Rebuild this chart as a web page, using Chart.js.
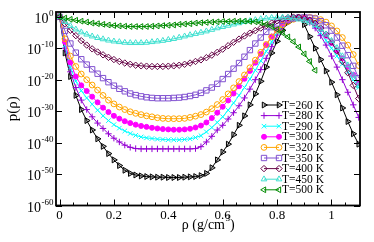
<!DOCTYPE html>
<html>
<head>
<meta charset="utf-8">
<script src="https://cdn.jsdelivr.net/npm/chart.js@4.4.1/dist/chart.umd.min.js"></script>
<style>
  html, body { margin: 0; padding: 0; background: #fff; }
  #wrap { width: 374px; height: 242px; }
</style>
</head>
<body>
<div id="wrap"><canvas id="pdist" width="374" height="242"></canvas></div>
<script>
// density grid (g/cm^3)
var rho = [0, 0.02, 0.04, 0.06, 0.08, 0.10, 0.12, 0.14, 0.16, 0.18,
           0.20, 0.22, 0.24, 0.26, 0.28, 0.30, 0.32, 0.34, 0.36, 0.38,
           0.40, 0.42, 0.44, 0.46, 0.48, 0.50, 0.52, 0.54, 0.56, 0.58,
           0.60, 0.62, 0.64, 0.66, 0.68, 0.70, 0.72, 0.74, 0.76, 0.78,
           0.80, 0.82, 0.84, 0.86, 0.88, 0.90, 0.92, 0.94, 0.96, 0.98,
           1.00, 1.02, 1.04, 1.06, 1.08, 1.10];

// log10 p(rho)
var logP260 = [0, -11.5, -19, -25, -29.5, -33, -36, -38.8, -41.2, -43.5,
               -45.5, -47.3, -48.8, -49.8, -50.3, -50.6, -50.8, -50.9, -51, -51,
               -51.1, -51.1, -51.1, -51, -50.9, -50.8, -50.5, -49.8, -48, -45.5,
               -43, -40.5, -37.5, -34.5, -31.5, -28, -24.5, -20.5, -16, -11.5,
               -7.8, -4.3, -1.8, -0.6, -0.2, -2.5, -6.3, -10, -13.6, -17.2,
               -20.8, -24.8, -29, -33.3, -37.2, -40.5];
var logP280 = [0, -10, -17.5, -22.5, -26.5, -29.5, -31.8, -33.8, -35.5, -37.2,
               -38.6, -39.8, -40.8, -41.5, -41.9, -42, -42, -42, -42, -42,
               -42, -42, -42, -42, -42, -41.9, -41.3, -39.8, -38, -36,
               -34.5, -32.5, -30.5, -28.3, -25.8, -23, -20, -16.8, -13.2, -9.5,
               -5.8, -3, -1.2, -0.4, -0.2, -0.6, -1.8, -3.6, -6, -9,
               -12.5, -16, -20, -24, -28, -32];
var logP290 = [0, -9, -16, -20.5, -23.5, -25.8, -27.8, -29.7, -31.5, -33,
               -34.3, -35.4, -36.3, -37.1, -37.7, -38.2, -38.5, -38.7, -38.9, -39,
               -39.1, -39.1, -39.1, -39, -38.8, -38.4, -37.8, -36.6, -35.2, -33.6,
               -31.8, -29.7, -27.4, -25, -22.5, -19.8, -17, -14, -11, -8,
               -5, -2.8, -1.3, -0.6, -0.3, -0.4, -1.2, -2.8, -5, -7.5,
               -10, -12.5, -15, -17.5, -20, -22.5];
var logP300 = [0, -8, -14.5, -19, -21.8, -23.6, -25.4, -27.2, -28.9, -30.3,
               -31.5, -32.4, -33.2, -33.8, -34.3, -34.7, -35, -35.3, -35.5, -35.7,
               -35.8, -35.9, -35.9, -35.8, -35.6, -35.2, -34.6, -33.6, -32.2, -30.5,
               -28.6, -26.6, -24.4, -22.1, -19.7, -17.2, -14.6, -11.8, -9, -6.3,
               -4, -2.2, -1.1, -0.5, -0.2, -0.3, -0.9, -2.1, -3.8, -6,
               -8.3, -10.7, -13.2, -15.8, -18.4, -21];
var logP320 = [0, -7, -12.5, -15.8, -18.2, -20, -21.7, -23.3, -25, -26.5,
               -27.7, -28.7, -29.5, -30.2, -30.7, -31.1, -31.5, -31.8, -32.1, -32.3,
               -32.4, -32.4, -32.4, -32.3, -32, -31.6, -31.1, -30.3, -29.2, -27.9,
               -26.3, -24.5, -22.6, -20.6, -18.5, -16.2, -13.8, -11.3, -8.8, -6.4,
               -4.3, -2.6, -1.5, -0.8, -0.4, -0.2, -0.2, -0.4, -0.9, -1.7,
               -2.9, -4.5, -6.6, -9, -12, -15.5];
var logP350 = [0, -4.5, -8.5, -11.4, -13.5, -15.2, -16.7, -18.1, -19.5, -20.8,
               -21.9, -22.9, -23.7, -24.4, -24.9, -25.3, -25.6, -25.8, -25.9, -25.9,
               -25.9, -25.8, -25.7, -25.5, -25.2, -24.8, -24.2, -23.4, -22.5, -21.3,
               -19.8, -18.2, -16.5, -14.7, -12.7, -10.6, -8.5, -6.6, -4.8, -3.3,
               -2.1, -1.3, -0.8, -0.5, -0.3, -0.2, -0.3, -0.6, -1.4, -2.7,
               -4.4, -6.6, -9.2, -12.2, -15.6, -19.5];
var logP400 = [0, -2.2, -4.3, -6, -7.6, -9, -10.2, -11.2, -12.1, -12.9,
               -13.6, -14.2, -14.7, -15.1, -15.4, -15.6, -15.7, -15.8, -15.8, -15.8,
               -15.7, -15.6, -15.4, -15.1, -14.7, -14.2, -13.7, -13, -12.2, -11.3,
               -10.3, -9.2, -8.1, -7.1, -6.1, -5.2, -4.4, -3.6, -2.8, -2,
               -1.3, -0.7, -0.3, -0.1, -0.2, -0.5, -1.1, -2.1, -3.6, -5.6,
               -8, -10.9, -14.2, -17.8, -21.8, -26];
var logP450 = [0, -1.6, -2.9, -4, -4.9, -5.6, -6.2, -6.7, -7.1, -7.5,
               -7.8, -8, -8.2, -8.3, -8.3, -8.3, -8.2, -8, -7.8, -7.6,
               -7.3, -7, -6.6, -6.2, -5.8, -5.4, -5, -4.6, -4.1, -3.6,
               -3.2, -2.8, -2.4, -2, -1.6, -1.3, -1, -0.7, -0.5, -0.3,
               -0.2, -0.2, -0.3, -0.5, -0.8, -1.2, -1.8, -2.6, -3.9, -5.6,
               -7.6, -9.9, -12.5, -15.4, -18.6, -22];
var logP500 = [0, -0.4, -0.8, -1.1, -1.4, -1.7, -2, -2.2, -2.4, -2.6,
               -2.8, -2.9, -3, -3.1, -3.1, -3.1, -3.1, -3, -2.9, -2.8,
               -2.7, -2.6, -2.4, -2.3, -2.2, -2, -1.9, -1.8, -1.7, -1.6,
               -1.5, -1.5, -1.4, -1.4, -1.4, -1.5, -1.6, -1.9, -2.4, -3.1,
               -4, -5.1, -6.4, -7.9, -9.6, -11.8, -14.2, -17];

var seriesNames = ['T=260 K', 'T=280 K', 'T=290 K', 'T=300 K', 'T=320 K',
                   'T=350 K', 'T=400 K', 'T=450 K', 'T=500 K'];
var seriesValues = [logP260, logP280, logP290, logP300, logP320,
                    logP350, logP400, logP450, logP500];

var xMajorTicks = [0, 0.2, 0.4, 0.6, 0.8, 1.0];
var xTickLabels = ['0', '0.2', '0.4', '0.6', '0.8', '1'];
var xMinorTicks = [0.05, 0.1, 0.15, 0.25, 0.3, 0.35, 0.45, 0.5, 0.55,
                   0.65, 0.7, 0.75, 0.85, 0.9, 0.95, 1.05];
var yMajorTicks = [0, -10, -20, -30, -40, -50, -60];
var yTickLabels = ['0', '-10', '-20', '-30', '-40', '-50', '-60'];

// xmgrace-like look per set
var styles = [
    { color: '#000000', shape: 'triangle', rot: 90,  r: 3.4, fill: 'rgba(0,0,0,0.25)' },
    { color: '#9400d3', shape: 'cross',    rot: 0,   r: 3.2, fill: 'rgba(0,0,0,0)' },
    { color: '#00ffff', shape: 'crossRot', rot: 0,   r: 3.2, fill: 'rgba(0,0,0,0)' },
    { color: '#ff00ff', shape: 'circle',   rot: 0,   r: 2.5, fill: '#ff00ff' },
    { color: '#ffa500', shape: 'circle',   rot: 0,   r: 2.9, fill: 'rgba(0,0,0,0)' },
    { color: '#8050d0', shape: 'rect',     rot: 0,   r: 3.8, fill: 'rgba(0,0,0,0)' },
    { color: '#670748', shape: 'rectRot',  rot: 0,   r: 3.2, fill: 'rgba(0,0,0,0)' },
    { color: '#40e0d0', shape: 'triangle', rot: 0,   r: 3.3, fill: 'rgba(0,0,0,0)' },
    { color: '#008b00', shape: 'triangle', rot: -90, r: 3.3, fill: 'rgba(0,0,0,0)' }
];

var datasets = seriesValues.map(function(vals, i) {
    var st = styles[i];
    return {
        label: seriesNames[i],
        data: vals.map(function(v, j) { return { x: rho[j], y: v }; }),
        borderColor: st.color,
        borderWidth: 1,
        pointStyle: st.shape,
        pointRotation: st.rot,
        pointRadius: st.r,
        pointBorderWidth: 1,
        pointBorderColor: st.color,
        pointBackgroundColor: st.fill,
        tension: 0,
        fill: false,
        order: seriesNames.length - i
    };
});

var serif = '"Liberation Serif", "DejaVu Serif", serif';

function drawPower(c, base, sup, xRight, baseline, bigSize, smallSize) {
    c.font = bigSize + 'px ' + serif;
    var wb = c.measureText(base).width;
    c.font = smallSize + 'px ' + serif;
    var ws = c.measureText(sup).width;
    var x0 = xRight - ws - wb;
    c.font = bigSize + 'px ' + serif;
    c.fillText(base, x0, baseline);
    c.font = smallSize + 'px ' + serif;
    c.fillText(sup, x0 + wb + 0.5, baseline - bigSize * 0.5);
}

var gracePlugin = {
    id: 'grace',
    afterDraw: function(chart) {
        var c = chart.ctx, a = chart.chartArea;
        var sx = chart.scales.x, sy = chart.scales.y;
        c.save();
        c.fillStyle = '#000';
        c.strokeStyle = '#000';

        // inward ticks on all four sides
        c.lineWidth = 1;
        c.beginPath();
        xMinorTicks.forEach(function(v) {
            var px = Math.round(sx.getPixelForValue(v)) + 0.5;
            c.moveTo(px, a.bottom); c.lineTo(px, a.bottom - 3);
            c.moveTo(px, a.top); c.lineTo(px, a.top + 3);
        });
        xMajorTicks.forEach(function(v) {
            var px = Math.round(sx.getPixelForValue(v)) + 0.5;
            c.moveTo(px, a.bottom); c.lineTo(px, a.bottom - 6);
            c.moveTo(px, a.top); c.lineTo(px, a.top + 6);
        });
        yMajorTicks.forEach(function(v) {
            var py = Math.round(sy.getPixelForValue(v)) + 0.5;
            c.moveTo(a.left, py); c.lineTo(a.left + 6, py);
            c.moveTo(a.right, py); c.lineTo(a.right - 6, py);
        });
        c.stroke();

        c.lineWidth = 1.8;
        c.strokeRect(a.left, a.top, a.right - a.left, a.bottom - a.top);

        // x tick labels
        c.textAlign = 'center';
        c.textBaseline = 'alphabetic';
        c.font = '13px ' + serif;
        xMajorTicks.forEach(function(v, i) {
            c.fillText(xTickLabels[i], sx.getPixelForValue(v), a.bottom + 13);
        });

        // y tick labels 10^n
        c.textAlign = 'left';
        yMajorTicks.forEach(function(v, i) {
            var py = sy.getPixelForValue(v);
            drawPower(c, '10', yTickLabels[i], a.left - 3, py + 6, 14, 9);
        });

        // axis titles
        c.font = '14px ' + serif;
        var t1 = '\u03c1 (g/cm', t2 = '3', t3 = ')';
        var w1 = c.measureText(t1).width, w3 = c.measureText(t3).width;
        c.font = '9px ' + serif;
        var w2 = c.measureText(t2).width;
        var xs = (a.left + a.right) / 2 - (w1 + w2 + w3) / 2;
        c.font = '14px ' + serif;
        c.fillText(t1, xs, 229);
        c.fillText(t3, xs + w1 + w2 + 0.5, 229);
        c.font = '9px ' + serif;
        c.fillText(t2, xs + w1 + 0.5, 221);

        c.save();
        c.translate(17, (a.top + a.bottom) / 2);
        c.rotate(-Math.PI / 2);
        c.textAlign = 'center';
        c.font = '15px ' + serif;
        c.fillText('p(\u03c1)', 0, 0);
        c.restore();

        // legend: line with a symbol at each end, as grace does
        var lx0 = 264, lx1 = 279, ly = 105, step = 10.6;
        c.textAlign = 'left';
        c.textBaseline = 'middle';
        chart.data.datasets.forEach(function(ds, i) {
            var yy = ly + i * step;
            c.strokeStyle = ds.borderColor;
            c.lineWidth = 1;
            c.beginPath();
            c.moveTo(lx0, yy); c.lineTo(lx1, yy);
            c.stroke();
            c.fillStyle = ds.pointBackgroundColor;
            c.strokeStyle = ds.pointBorderColor;
            [lx0, lx1].forEach(function(px) {
                Chart.helpers.drawPoint(c, {
                    pointStyle: ds.pointStyle,
                    rotation: ds.pointRotation,
                    radius: ds.pointRadius,
                    borderWidth: 1
                }, px, yy);
            });
            c.fillStyle = '#000';
            c.font = '11.5px ' + serif;
            c.fillText(ds.label, 282, yy + 0.5);
        });
        c.restore();
    }
};

new Chart(document.getElementById('pdist').getContext('2d'), {
    type: 'line',
    data: { datasets: datasets },
    options: {
        responsive: false,
        animation: false,
        devicePixelRatio: 1,
        layout: { padding: { left: 56, top: 12, right: 14, bottom: 36.5 } },
        plugins: { legend: { display: false }, tooltip: { enabled: false } },
        scales: {
            x: { type: 'linear', min: -0.0129, max: 1.1048, display: false },
            y: { type: 'linear', min: -60, max: 1.52, display: false }
        }
    },
    plugins: [gracePlugin]
});
</script>
</body>
</html>
